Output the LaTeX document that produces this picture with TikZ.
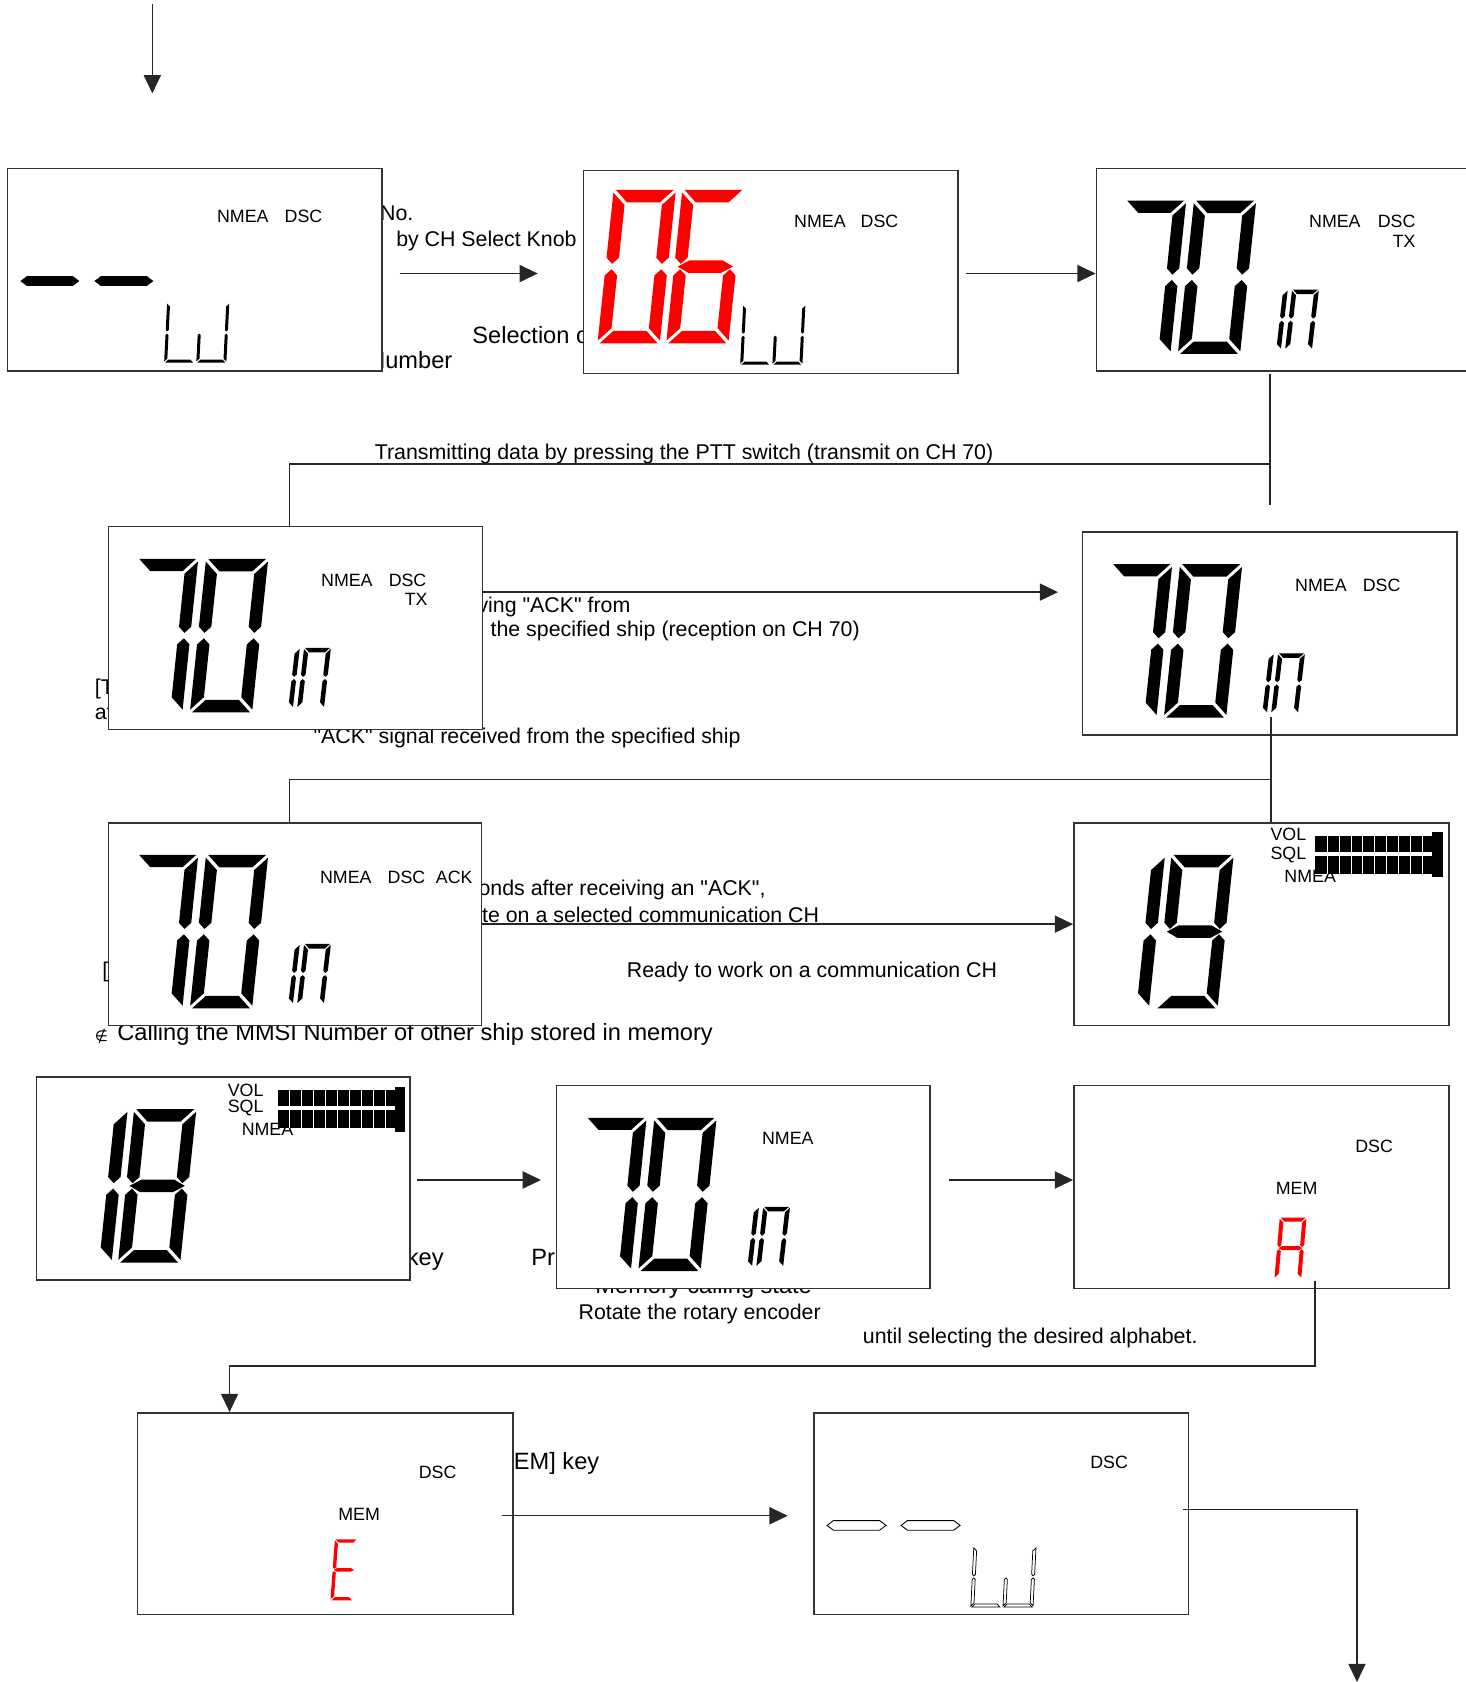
\documentclass[tikz,border=0pt]{standalone}
\usepackage{fontspec}
\setmainfont{Liberation Sans}[Ligatures=TeXOff]
\newfontfamily\djv{DejaVu Sans}
\usetikzlibrary{fit,calc,arrows.meta}

\newcommand\dsega{\path[segst] (\dG,2) -- ({1-\dG},2) -- ({1-\dG-\dTX},{2-\dTY}) -- ({\dG+\dTX},{2-\dTY}) -- cycle;}
\newcommand\dsegd{\path[segst] (\dG,0) -- ({1-\dG},0) -- ({1-\dG-\dTX},\dTY) -- ({\dG+\dTX},\dTY) -- cycle;}
\newcommand\dsegg{\path[segst] ({\dG+0.02},1) -- ({\dG+\dTX},{1+\dTY/2}) -- ({1-\dG-\dTX},{1+\dTY/2}) -- ({1-\dG-0.02},1) -- ({1-\dG-\dTX},{1-\dTY/2}) -- ({\dG+\dTX},{1-\dTY/2}) -- cycle;}
\newcommand\dsegf{\path[segst] (0,{2-\dG}) -- (\dTX,{2-\dG-\dTY}) -- (\dTX,{1+\dG+\dTY/2}) -- ({\dTX/2},{1+\dG}) -- (0,{1+\dG+\dTY/2}) -- cycle;}
\newcommand\dsegb{\path[segst] (1,{2-\dG}) -- ({1-\dTX},{2-\dG-\dTY}) -- ({1-\dTX},{1+\dG+\dTY/2}) -- ({1-\dTX/2},{1+\dG}) -- (1,{1+\dG+\dTY/2}) -- cycle;}
\newcommand\dsege{\path[segst] (0,\dG) -- (\dTX,{\dG+\dTY}) -- (\dTX,{1-\dG-\dTY/2}) -- ({\dTX/2},{1-\dG}) -- (0,{1-\dG-\dTY/2}) -- cycle;}
\newcommand\dsegc{\path[segst] (1,\dG) -- ({1-\dTX},{\dG+\dTY}) -- ({1-\dTX},{1-\dG-\dTY/2}) -- ({1-\dTX/2},{1-\dG}) -- (1,{1-\dG-\dTY/2}) -- cycle;}

% x, y (bottom-left), width, height, thickness, slant, segments, style
\newcommand\dig[8]{%
 \begin{scope}[shift={(#1,#2)}, xscale=#3, yscale={-#4/2}, xslant={-#6}]
 \pgfmathsetmacro\dTX{#5}\pgfmathsetmacro\dTY{#5*#3*2/#4}\def\dG{0.035}%
 \tikzset{segst/.style={#8}}%
 \foreach \s in {#7}{\csname dseg\s\endcsname}%
 \end{scope}}

\newcommand\seventy[2]{%
 \dig{#1+12}{#2+173}{57}{143}{0.2}{0.13}{a,b,c}{fill=black}%
 \dig{#1+76}{#2+173}{58}{143}{0.2}{0.13}{a,b,c,d,e,f}{fill=black}}
\newcommand\chin[3]{%
 \dig{#1+147+#3}{#2+169}{25}{56}{0.17}{0.13}{b,c}{fill=black}%
 \dig{#1+176+#3}{#2+169}{25}{56}{0.17}{0.13}{a,b,c,e,f}{fill=black}}
\newcommand\lw[3]{%
 \dig{#1+146}{#2+181}{28}{56}{0.1}{0.05}{d,e,f}{#3}%
 \dig{#1+176}{#2+181}{28}{56}{0.1}{0.05}{b,c,d,e}{#3}}
\newcommand\dashbars[3]{%
 \foreach \a/\b in {12/67,81/136}{\path[#3] (#1+\a,#2+105) -- (#1+\a+6,#2+100.5) -- (#1+\b-6,#2+100.5) -- (#1+\b,#2+105) -- (#1+\b-6,#2+109.5) -- (#1+\a+6,#2+109.5) -- cycle;}}
\newcommand\lvl[2]{%
 \fill (#1+225,#2+12) rectangle (#1+336,#2+27);
 \fill (#1+225,#2+31) rectangle (#1+336,#2+48);
 \fill (#1+334,#2+9) rectangle (#1+344,#2+51);
 \foreach \i in {1,...,9}{\draw[white,line width=0.3pt] (#1+225+\i*11.1,#2+12) -- (#1+225+\i*11.1,#2+48);}}

\begin{document}
\begin{tikzpicture}[x=0.5pt,y=-0.5pt,
 lbl/.style={font=\fontsize{8.3}{9}\selectfont, inner sep=0pt, anchor=west, yshift=-0.5pt},
 txt/.style={font=\fontsize{9.95}{11}\selectfont, inner sep=0pt, anchor=west, yshift=-1pt},
 btxt/.style={font=\fontsize{11}{13}\selectfont, inner sep=0pt, anchor=west, yshift=-1pt},
 box/.style={draw=black!80, line width=0.7pt, fill=white, inner sep=0pt},
 ln/.style={line width=0.65pt, draw=black!85},
 arr/.style={ln, -{Triangle[length=8.5pt,width=8pt]}}]
\useasboundingbox (0,0) rectangle (1366,1568);
\fill[white] (0,0) rectangle (1366,1568);

% ---- texts (partly covered by boxes)
\node[txt] (t1) at (354,197) {No.};
\node[txt] (t2) at (369,223) {by CH Select Knob};
\node[btxt] (t3) at (440,310) {Selection of};
\node[btxt, anchor=east] (t4) at (422,334) {Number};
\node[txt] (t5) at (349,421) {Transmitting data by pressing the PTT switch (transmit on CH 70)};
\node[txt, anchor=east] (t6) at (588,564) {receiving "ACK" from};
\node[txt] (t7) at (457,586) {the specified ship (reception on CH 70)};
\node[txt] (t8) at (88,640) {[Tx]};
\node[txt] (t9) at (88,662) {at};
\node[txt] (t10) at (292,686) {"ACK" signal received from the specified ship};
\node[txt, anchor=east] (t11) at (714,828) {onds after receiving an "ACK",};
\node[txt, anchor=east] (t12) at (764,851) {state on a selected communication CH};
\node[txt] (t13) at (584,904) {Ready to work on a communication CH};
\node[txt] (t14) at (95,904) {[};
\node[btxt] (t15) at (109,962) {Calling the MMSI Number of other ship stored in memory};
\node[inner sep=0pt, anchor=west, font=\djv\fontsize{7}{8}\selectfont] (t16) at (88,966) {∉};
\node[btxt, anchor=east] (t17) at (414,1172) {[MEM] key};
\node[btxt] (t18) at (495,1170) {Press};
\node[btxt, anchor=center] (t19) at (656,1198) {Memory calling state};
\node[txt] (t20) at (539,1223) {Rotate the rotary encoder};
\node[txt] (t21) at (804,1245) {until selecting the desired alphabet.};
\node[btxt, anchor=east] (t22) at (559,1362) {[MEM] key};

% ---- boxes
\node[box, fit={(7,157) (356,346)}] (b1) {};
\node[box, fit={(544,159) (893,348)}] (b2) {};
\node[box, fit={(1022,157) (1371,346)}] (b3) {};
\node[box, fit={(101,491) (450,680)}] (b4) {};
\node[box, fit={(1009,496) (1358,685)}] (b5) {};
\node[box, fit={(101,767) (449,956)}] (b6) {};
\node[box, fit={(1001,767) (1351,956)}] (b7) {};
\node[box, fit={(34,1004) (382,1193)}] (b8) {};
\node[box, fit={(519,1012) (867,1201)}] (b9) {};
\node[box, fit={(1001,1012) (1351,1201)}] (b10) {};
\node[box, fit={(128,1317) (478,1505)}] (b11) {};
\node[box, fit={(759,1317) (1108,1505)}] (b12) {};

% ---- box 1
\node[lbl] (l1a) at (202,201) {NMEA};
\node[lbl] (l1b) at (265,201) {DSC};
\dashbars{7}{157}{fill=black}
\lw{7}{157}{fill=black}
% ---- box 2
\dig{557}{320}{58}{143}{0.2}{0.13}{a,b,c,d,e,f}{fill=red}
\dig{621}{320}{58}{143}{0.2}{0.13}{a,c,d,e,f,g}{fill=red}
\node[lbl] (l2a) at (740,205) {NMEA};
\node[lbl] (l2b) at (802,205) {DSC};
\lw{544}{159}{fill=black}
% ---- box 3
\seventy{1022}{157}
\chin{1022}{157}{0}
\node[lbl] (l3a) at (1220,205) {NMEA};
\node[lbl] (l3b) at (1284,205) {DSC};
\node[lbl] (l3c) at (1298,224) {TX};
% ---- box 4
\seventy{101}{491}
\chin{101}{491}{0}
\node[lbl] (l4a) at (299,540) {NMEA};
\node[lbl] (l4b) at (362,540) {DSC};
\node[lbl] (l4c) at (377,558) {TX};
% ---- box 5
\seventy{1009}{496}
\chin{1009}{496}{0}
\node[lbl] (l5a) at (1207,545) {NMEA};
\node[lbl] (l5b) at (1270,545) {DSC};
% ---- box 6
\seventy{101}{767}
\chin{101}{767}{0}
\node[lbl] (l6a) at (298,817) {NMEA};
\node[lbl] (l6b) at (361,817) {DSC};
\node[lbl] (l6c) at (406,817) {ACK};
% ---- box 7
\dig{1013}{940}{58}{143}{0.2}{0.13}{b,c}{fill=black}
\dig{1077}{940}{58}{143}{0.2}{0.13}{a,b,c,d,f,g}{fill=black}
\node[lbl] (l7a) at (1184,777) {VOL};
\node[lbl] (l7b) at (1184,796) {SQL};
\node[lbl] (l7c) at (1197,816) {NMEA};
\lvl{1001}{767}
% ---- box 8
\dig{46}{1177}{58}{143}{0.2}{0.13}{b,c}{fill=black}
\dig{110}{1177}{58}{143}{0.2}{0.13}{a,b,c,d,e,f,g}{fill=black}
\node[lbl] (l8a) at (212,1015) {VOL};
\node[lbl] (l8b) at (212,1032) {SQL};
\node[lbl] (l8c) at (225,1052) {NMEA};
\lvl{34}{1004}
% ---- box 9
\seventy{519}{1012}
\chin{519}{1012}{10}
\node[lbl] (l9a) at (710,1060) {NMEA};
% ---- box 10
\node[lbl] (l10a) at (1263,1068) {DSC};
\node[lbl] (l10b) at (1189,1107) {MEM};
\dig{1188}{1192}{25}{57}{0.15}{0.1}{a,b,c,e,f,g}{fill=red}
% ---- box 11
\node[lbl] (l11a) at (390,1372) {DSC};
\node[lbl] (l11b) at (315,1411) {MEM};
\dig{308}{1492}{21}{57}{0.15}{0.1}{a,d,e,f,g}{fill=red}
% ---- box 12
\node[lbl] (l12a) at (1016,1362) {DSC};
\dashbars{759}{1317}{draw=black,line width=0.4pt,fill=white}
\lw{759}{1317}{draw=black,line width=0.35pt,fill=white}

% ---- connectors
\coordinate (top0) at (142,4);
\coordinate (top1) at (142,87);
\draw[arr] (top0) -- (top1);
\draw[arr] ($(b1.east)+(16,3.5)$) -- ($(b2.west)+(-42,1.5)$);
\draw[arr] ($(b2.east)+(7,1.5)$) -- ($(b3.west)+(0,3.5)$);
\draw[ln] ($(b3.south)+(-12.5,2)$) -- ($(b3.south)+(-12.5,124)$);
\draw[ln] ($(b3.south)+(-12.5,86)$) -| ($(b4.north)+(-5.5,0)$);
\draw[arr] ($(b4.east)+(0,-33.5)$) -- ($(b5.west)+(-22,-38.5)$);
\draw[ln] ($(b5.south)+(1.5,-17)$) -- ($(b7.north)+(9,0)$);
\draw[ln] ($(b5.south)+(1.5,41)$) -| ($(b6.north)+(-5,0)$);
\draw[arr] (b6.east) -- (b7.west);
\draw[arr] ($(b8.east)+(6,1.5)$) -- ($(b9.west)+(-14,-6.5)$);
\draw[arr] ($(b9.east)+(17,-6.5)$) -- ($(b10.west)+(0,-6.5)$);
\draw[arr] ($(b10.south)+(50,-8)$) |- ($(b11.north)+(-89,-43)$) -- ($(b11.north)+(-89,0)$);
\draw[arr] ($(b11.east)+(-11,2)$) -- ($(b12.west)+(-24,2)$);
\coordinate (out) at (1265,1568);
\draw[arr] ($(b12.east)+(-6,-4)$) -| (out);
\end{tikzpicture}
\end{document}
